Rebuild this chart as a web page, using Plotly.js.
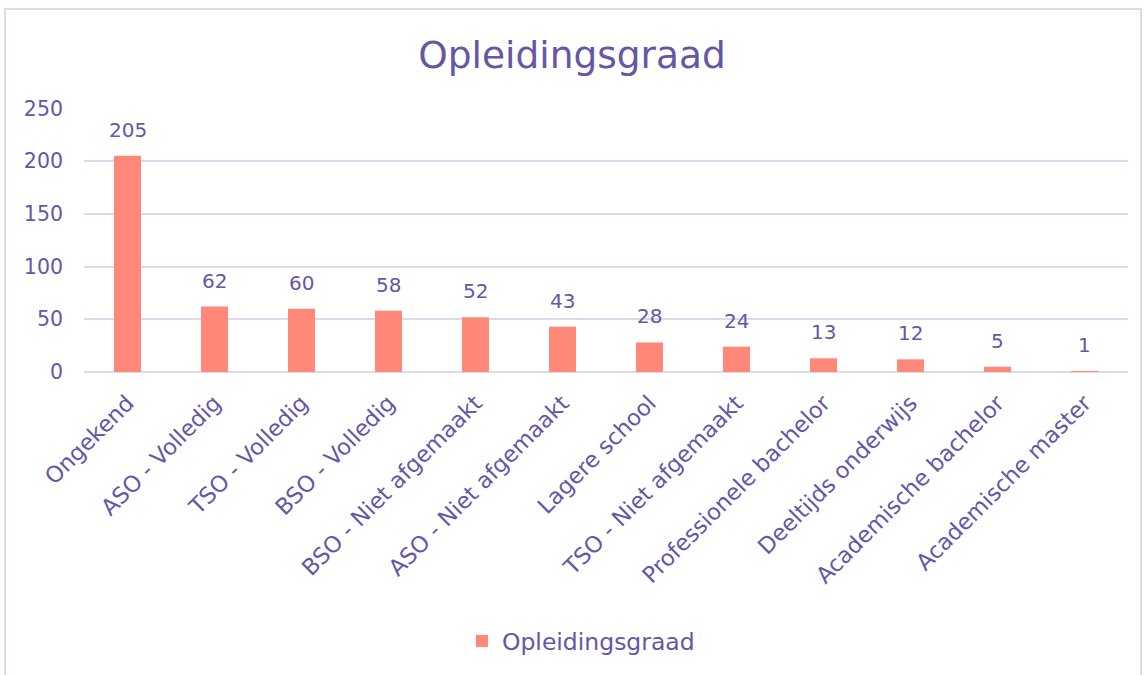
<!DOCTYPE html>
<html>
<head>
<meta charset="utf-8">
<script src="https://cdn.plot.ly/plotly-3.0.1.min.js"></script>
<style>
html,body{margin:0;padding:0;background:#fff;}
#wrap{position:relative;width:1144px;height:675px;}
#chart{width:1144px;height:675px;}
#frame{position:absolute;left:4px;top:8px;width:1134px;height:680px;border:2px solid #dcd9ec;pointer-events:none;}
</style>
</head>
<body>
<div id="wrap"><div id="chart"></div><div id="frame"></div></div>
<script>
const categories = ["Ongekend","ASO - Volledig","TSO - Volledig","BSO - Volledig","BSO - Niet afgemaakt","ASO - Niet afgemaakt","Lagere school","TSO - Niet afgemaakt","Professionele bachelor","Deeltijds onderwijs","Academische bachelor","Academische master"];
const values = [205,62,60,58,52,43,28,24,13,12,5,1];
const seriesName = "Opleidingsgraad";
const txt = "#6556a6";
const font = "'DejaVu Sans', sans-serif";

const labels = categories.map((c, i) => ({
  x: c, y: values[i], xref: "x", yref: "y",
  text: String(values[i]), showarrow: false,
  yanchor: "bottom", yshift: 12,
  font: {size: 20, color: txt, family: font}
}));

Plotly.newPlot("chart", [{
  type: "bar",
  x: categories,
  y: values,
  name: seriesName,
  marker: {color: "#ff8878"},
  showlegend: true
}], {
  width: 1144, height: 675,
  margin: {l: 84, r: 16, t: 108, b: 303},
  paper_bgcolor: "#fff", plot_bgcolor: "#fff",
  font: {family: font, color: txt},
  title: {text: "Opleidingsgraad", font: {size: 37.5, color: txt, family: font}, x: 0.5, xanchor: "center", y: 0.918, yanchor: "middle"},
  bargap: 0.69,
  annotations: labels,
  xaxis: {tickangle: -45, tickfont: {size: 22.5, color: txt, family: font}, showline: false, ticks: "outside", ticklen: 8, tickcolor: "rgba(0,0,0,0)", fixedrange: true, automargin: false},
  yaxis: {range: [0, 250.3], tickvals: [0, 50, 100, 150, 200, 250], tickfont: {size: 20.5, color: txt, family: font}, ticklabelstandoff: 20, gridcolor: "#dcd9ec", gridwidth: 2, zeroline: true, zerolinecolor: "#dcd9ec", zerolinewidth: 2, ticks: "", ticklen: 0, fixedrange: true, automargin: false},
  legend: {orientation: "h", x: 0.476, xanchor: "center", y: -1.02, yanchor: "middle", font: {size: 23.5, color: txt, family: font}},
}, {displayModeBar: false, staticPlot: true});
</script>
</body>
</html>
